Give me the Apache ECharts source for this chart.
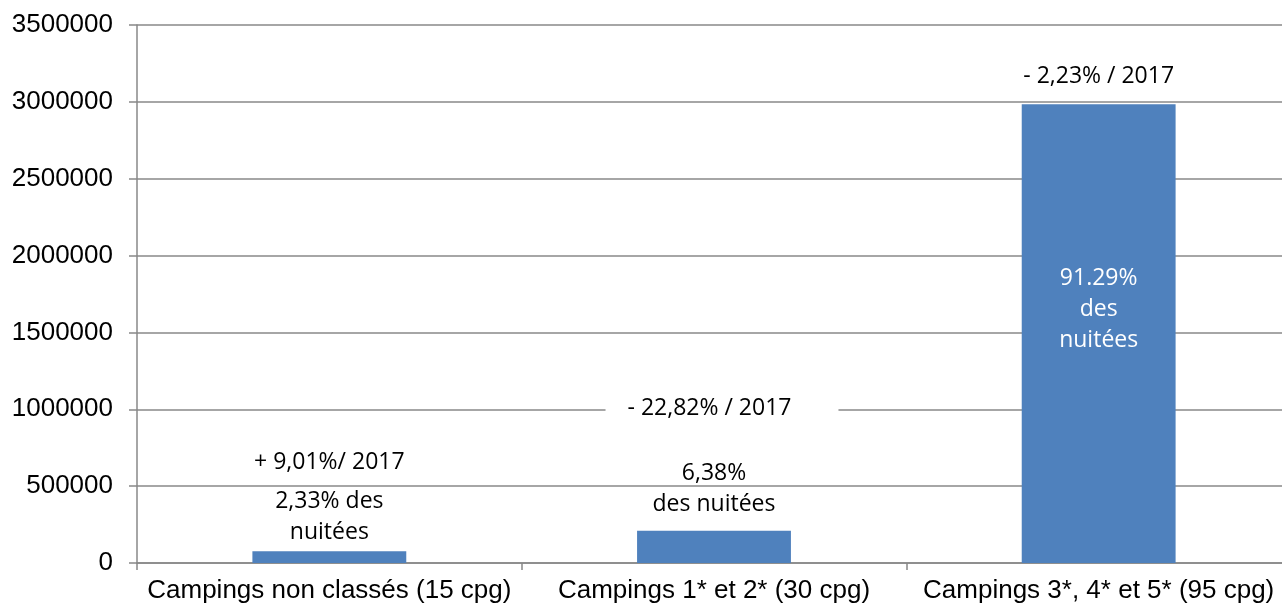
<!DOCTYPE html>
<html>
<head>
<meta charset="utf-8">
<script src="https://cdn.jsdelivr.net/npm/echarts@6/dist/echarts.min.js"></script>
<style>
  html, body { margin: 0; padding: 0; background: #fff; }
  #chart { width: 1282px; height: 608px; }
</style>
</head>
<body>
<div id="chart"></div>
<script>
// données
const categories = ['Campings non classés (15 cpg)', 'Campings 1* et 2* (30 cpg)', 'Campings 3*, 4* et 5* (95 cpg)'];
const nuitees = [76000, 209000, 2984000];
const partLabels = ['2,33% des\nnuitées', '6,38%\ndes nuitées', '91.29%\ndes\nnuitées'];
const evolutionLabels = ['+ 9,01%/ 2017', '- 22,82% / 2017', '- 2,23% / 2017'];

// placement des étiquettes (mise en page seulement)
const partPlacement = [
  { position: 'top', distance: 3 },
  { position: 'top', distance: 11 },
  { position: 'inside', offset: [0, -24], color: '#fff' }
];
const evolutionPlacement = [
  { distance: 73 },
  { distance: 107, backgroundColor: '#fff', padding: [0, 47, 0, 22], offset: [8, 0] },
  { distance: 12 }
];

const gray = '#888888';
const labelFont = '"Open Sans", "Noto Sans", sans-serif';
const axisFont = '"Liberation Sans", Arial, sans-serif';

var myChart = echarts.init(document.getElementById('chart'));

const option = {
  animation: false,
  grid: {
    left: 137,
    right: -9,
    top: 25,
    bottom: 45,
    containLabel: false,
    outerBoundsMode: 'none'
  },
  xAxis: {
    type: 'category',
    data: categories,
    axisLine: { lineStyle: { color: gray, width: 1.5 } },
    axisTick: { show: true, length: 7, lineStyle: { color: gray, width: 1.5 } },
    axisLabel: {
      interval: 0,
      margin: 15,
      color: '#000',
      fontSize: 26,
      fontFamily: axisFont
    }
  },
  yAxis: {
    type: 'value',
    min: 0,
    max: 3500000,
    interval: 500000,
    axisLine: { show: true, lineStyle: { color: gray, width: 1.5 } },
    axisTick: { show: true, length: 8, lineStyle: { color: gray, width: 1.5 } },
    splitLine: { lineStyle: { color: gray, width: 1.5 } },
    axisLabel: {
      margin: 24,
      color: '#000',
      fontSize: 26,
      fontFamily: axisFont,
      formatter: function (v) { return String(v); }
    }
  },
  series: [
    {
      name: 'Nuitées',
      type: 'bar',
      barWidth: '40%',
      itemStyle: { color: '#4F81BD' },
      label: {
        show: true,
        color: '#000',
        fontSize: 23,
        lineHeight: 31,
        fontFamily: labelFont,
        align: 'center'
      },
      data: nuitees.map(function (v, i) {
        return {
          value: v,
          label: Object.assign({ formatter: partLabels[i] }, partPlacement[i])
        };
      })
    },
    {
      name: 'Évolution',
      type: 'bar',
      barWidth: '40%',
      barGap: '-100%',
      silent: true,
      itemStyle: { color: 'rgba(0,0,0,0)' },
      label: {
        show: true,
        position: 'top',
        color: '#000',
        fontSize: 23,
        lineHeight: 31,
        fontFamily: labelFont
      },
      data: nuitees.map(function (v, i) {
        return {
          value: v,
          label: Object.assign({ formatter: evolutionLabels[i] }, evolutionPlacement[i])
        };
      })
    }
  ]
};

option && myChart.setOption(option);
</script>
</body>
</html>
